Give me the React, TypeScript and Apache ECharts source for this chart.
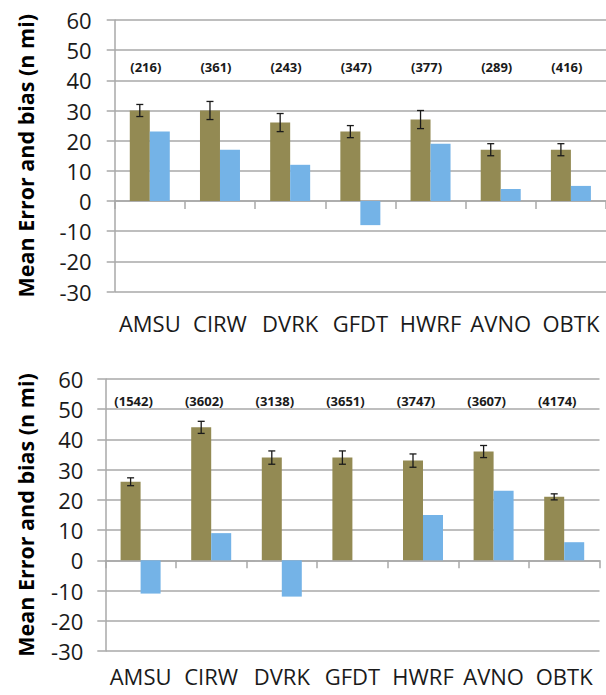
import React, { useEffect, useRef } from "react";
import * as echarts from "echarts";

const categories = ["AMSU", "CIRW", "DVRK", "GFDT", "HWRF", "AVNO", "OBTK"];

const topMeanError = [30, 30, 26, 23, 27, 17, 17];
const topErrorBar = [2, 3, 3, 2, 3, 2, 2];
const topBias = [23, 17, 12, -8, 19, 4, 5];
const topCounts = [216, 361, 243, 347, 377, 289, 416];

const botMeanError = [26, 44, 34, 34, 33, 36, 21];
const botErrorBar = [1.3, 2, 2.2, 2.2, 2.2, 2, 1];
const botBias = [-11, 9, -12, 0, 15, 23, 6];
const botCounts = [1542, 3602, 3138, 3651, 3747, 3607, 4174];

const yMin = -30;
const yMax = 60;
const yInterval = 10;
const topCountLevel = 44.5;
const botCountLevel = 52.8;
const yAxisName = "Mean Error and bias (n mi)";

const BROWN = "#938A53";
const BLUE = "#74B3E7";
const GRID = "#A8A8A8";
const TEXT = "#1a1a1a";
const FONT = '"Open Sans", "Liberation Sans", sans-serif';

export default function App() {
  const ref = useRef<HTMLDivElement>(null);

  useEffect(() => {
    if (!ref.current) return;
    const chart = echarts.init(ref.current, null, { renderer: "svg" });

    const grids = [
      { left: 114.7, top: 20, width: 494.9, height: 271.5 },
      { left: 105.3, top: 379, width: 494.2, height: 272 },
    ];
    const nameGaps = [78, 69];
    const labelMargins = [23, 22];
    const catMargins = [20, 14];
    const countOffsets = [-4, -7];

    const xAxes: any[] = [];
    const yAxes: any[] = [];
    const series: any[] = [];

    const panels = [
      { me: topMeanError, eb: topErrorBar, bias: topBias, counts: topCounts, level: topCountLevel },
      { me: botMeanError, eb: botErrorBar, bias: botBias, counts: botCounts, level: botCountLevel },
    ];

    panels.forEach((p, gi) => {
      xAxes.push({
        type: "category",
        gridIndex: gi,
        data: categories,
        position: "bottom",
        axisLine: { show: true, onZero: true, lineStyle: { color: GRID, width: 1.5 } },
        axisTick: { show: true, length: 8, interval: 0, lineStyle: { color: GRID, width: 1.5 } },
        axisLabel: { show: false },
        splitLine: { show: false },
      });
      xAxes.push({
        type: "category",
        gridIndex: gi,
        data: categories,
        position: "bottom",
        axisLine: { show: false, onZero: false },
        axisTick: { show: false },
        axisLabel: {
          show: true,
          interval: 0,
          margin: catMargins[gi],
          fontFamily: FONT,
          fontSize: 22,
          color: TEXT,
        },
      });
      yAxes.push({
        type: "value",
        gridIndex: gi,
        min: yMin,
        max: yMax,
        interval: yInterval,
        name: yAxisName,
        nameLocation: "middle",
        nameGap: nameGaps[gi],
        nameTextStyle: { fontFamily: FONT, fontSize: 21.5, fontWeight: "bold", color: "#000" },
        axisLine: { show: true, lineStyle: { color: GRID, width: 1.5 } },
        axisTick: { show: true, length: 8, lineStyle: { color: GRID, width: 1.5 } },
        axisLabel: { fontFamily: FONT, fontSize: 22, color: TEXT, margin: labelMargins[gi] },
        splitLine: { show: true, lineStyle: { color: GRID, width: 1.5 } },
      });

      const xi = gi * 2;
      series.push({
        type: "bar",
        xAxisIndex: xi,
        yAxisIndex: gi,
        data: p.me,
        barWidth: 20,
        barGap: "0%",
        itemStyle: { color: BROWN },
      });
      series.push({
        type: "bar",
        xAxisIndex: xi,
        yAxisIndex: gi,
        data: p.bias,
        barWidth: 20,
        barGap: "0%",
        itemStyle: { color: BLUE },
      });
      series.push({
        type: "custom",
        xAxisIndex: xi,
        yAxisIndex: gi,
        z: 5,
        data: p.me.map((v, i) => [i, v - p.eb[i], v + p.eb[i]]),
        encode: { x: 0, y: [1, 2] },
        renderItem: (params: any, api: any) => {
          const lo = api.coord([api.value(0), api.value(1)]);
          const hi = api.coord([api.value(0), api.value(2)]);
          const x = lo[0] - 10;
          const style = { stroke: "#1a1a1a", lineWidth: 1.3 };
          return {
            type: "group",
            children: [
              { type: "line", shape: { x1: x, y1: lo[1], x2: x, y2: hi[1] }, style },
              { type: "line", shape: { x1: x - 3.5, y1: lo[1], x2: x + 3.5, y2: lo[1] }, style },
              { type: "line", shape: { x1: x - 3.5, y1: hi[1], x2: x + 3.5, y2: hi[1] }, style },
            ],
          };
        },
      });
      const off = countOffsets[gi];
      series.push({
        type: "custom",
        xAxisIndex: xi,
        yAxisIndex: gi,
        z: 5,
        data: p.counts.map((c, i) => [i, p.level, c]),
        encode: { x: 0, y: 1 },
        renderItem: (params: any, api: any) => {
          const pos = api.coord([api.value(0), api.value(1)]);
          return {
            type: "text",
            x: pos[0] + off,
            y: pos[1],
            style: {
              text: "(" + api.value(2) + ")",
              align: "center",
              verticalAlign: "middle",
              font: 'bold 13px "Open Sans", sans-serif',
              fill: TEXT,
            },
          };
        },
      });
    });

    chart.setOption({
      animation: false,
      backgroundColor: "#fff",
      grid: grids,
      xAxis: xAxes,
      yAxis: yAxes,
      series,
    });

    return () => chart.dispose();
  }, []);

  return (
    <div
      ref={ref}
      style={{ position: "absolute", left: 0, top: 0, width: 606, height: 695, background: "#fff" }}
    />
  );
}
